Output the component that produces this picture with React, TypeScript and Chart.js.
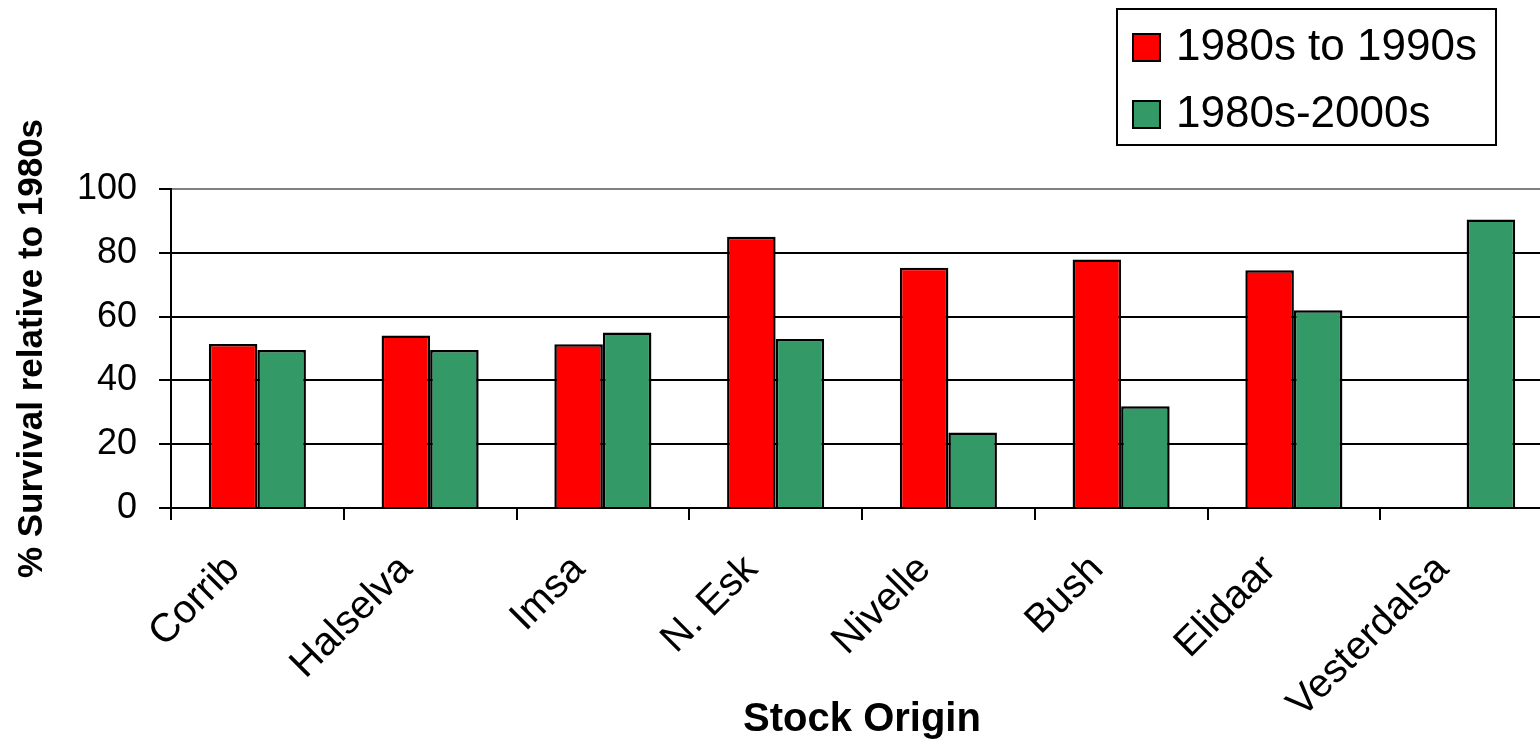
import React, { useEffect, useRef } from "react";
import { Chart, registerables } from "chart.js";

Chart.register(...registerables);

const categories = ["Corrib", "Halselva", "Imsa", "N. Esk", "Nivelle", "Bush", "Elidaar", "Vesterdalsa"];
const series1990s: (number | null)[] = [51.4, 54.1, 51.3, 85.0, 75.3, 77.9, 74.5, null];
const series2000s: (number | null)[] = [49.5, 49.5, 55.0, 53.0, 23.7, 31.9, 62.0, 90.4];
const seriesLabels = ["1980s to 1990s", "1980s-2000s"];
const yMin = 0;
const yMax = 100;
const yStep = 20;
const xTitle = "Stock Origin";
const yTitle = "% Survival relative to 1980s";

const FONT = "'Liberation Sans', Arial, Helvetica, sans-serif";
const CANVAS_W = 1560;
const CANVAS_H = 747;

const boxLegend = {
  id: "boxLegend",
  afterDraw(chart: any) {
    const ctx = chart.ctx;
    ctx.save();
    ctx.lineWidth = 2;
    ctx.strokeStyle = "#000";
    ctx.fillStyle = "#fff";
    ctx.fillRect(1117, 9, 379, 136);
    ctx.strokeRect(1117, 9, 379, 136);
    chart.data.datasets.forEach((ds: any, i: number) => {
      const y = 34 + i * 67;
      ctx.fillStyle = ds.backgroundColor;
      ctx.fillRect(1133, y, 27, 27);
      ctx.strokeRect(1133, y, 27, 27);
      ctx.fillStyle = "#000";
      ctx.font = `44px ${FONT}`;
      ctx.textBaseline = "middle";
      ctx.textAlign = "left";
      ctx.fillText(ds.label, 1176, y + 14);
    });
    ctx.restore();
  },
};

export default function App() {
  const canvasRef = useRef<HTMLCanvasElement | null>(null);

  useEffect(() => {
    if (!canvasRef.current) return;
    Chart.defaults.font.family = FONT;
    Chart.defaults.color = "#000";
    const chart = new Chart(canvasRef.current, {
      type: "bar",
      data: {
        labels: categories,
        datasets: [
          {
            label: seriesLabels[0],
            data: series1990s,
            backgroundColor: "#FF0000",
            borderColor: "#000",
            borderWidth: 2.5,
            categoryPercentage: 0.562,
            barPercentage: 1.0,
          },
          {
            label: seriesLabels[1],
            data: series2000s,
            backgroundColor: "#339966",
            borderColor: "#000",
            borderWidth: 2.5,
            categoryPercentage: 0.562,
            barPercentage: 1.0,
          },
        ],
      },
      options: {
        animation: false,
        responsive: true,
        maintainAspectRatio: false,
        layout: { padding: { top: 189, left: 0, right: CANVAS_W - 1553, bottom: 0 } },
        plugins: {
          legend: { display: false },
          tooltip: { enabled: false },
        },
        scales: {
          x: {
            afterFit: (s: any) => {
              s.height = 239;
            },
            grid: {
              display: true,
              drawOnChartArea: false,
              drawTicks: true,
              tickLength: 12,
              color: "#000",
              lineWidth: 2,
              offset: true,
            },
            border: { color: "#000", width: 2 },
            ticks: {
              autoSkip: false,
              minRotation: 45,
              maxRotation: 45,
              color: "#000",
              font: { size: 40 },
              padding: 26,
              labelOffset: -24,
            },
            title: {
              display: true,
              text: xTitle,
              color: "#000",
              font: { size: 40, weight: "bold" },
              padding: { top: 0, bottom: 3 },
            },
          },
          y: {
            min: yMin,
            max: yMax,
            afterFit: (s: any) => {
              s.width = 171;
            },
            grid: {
              color: (c: any) => (c.tick && c.tick.value === yMax ? "#808080" : "#000"),
              tickColor: "#000",
              lineWidth: 2,
              tickLength: 12,
              drawTicks: true,
            },
            border: { color: "#000", width: 2 },
            ticks: {
              stepSize: yStep,
              color: "#000",
              font: { size: 36 },
              padding: 22,
            },
            title: {
              display: true,
              text: yTitle,
              color: "#000",
              font: { size: 35, weight: "bold" },
              padding: { top: 11, bottom: 0 },
            },
          },
        },
      },
      plugins: [boxLegend],
    });
    return () => chart.destroy();
  }, []);

  return (
    <div
      style={{
        position: "fixed",
        left: 0,
        top: 0,
        width: 1540,
        height: CANVAS_H,
        overflow: "hidden",
        background: "#fff",
      }}
    >
      <div style={{ position: "relative", width: CANVAS_W, height: CANVAS_H }}>
        <canvas ref={canvasRef} />
      </div>
    </div>
  );
}
